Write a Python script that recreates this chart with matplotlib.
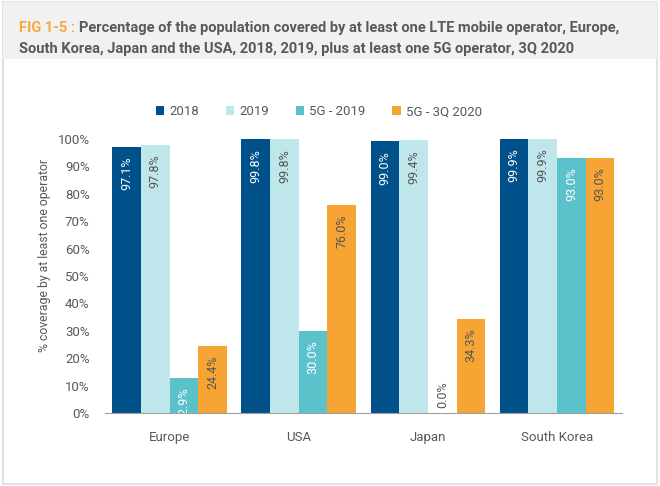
import numpy as np
import matplotlib.pyplot as plt
from matplotlib.patches import Rectangle

plt.rcParams['font.family'] = ['Roboto', 'DejaVu Sans']

# data
regions = ['Europe', 'USA', 'Japan', 'South Korea']
series = ['2018', '2019', '5G - 2019', '5G - 3Q 2020']
lte_2018 = [97.1, 99.8, 99.0, 99.9]
lte_2019 = [97.8, 99.8, 99.4, 99.9]
g5_2019 = [12.9, 30.0, 0.0, 93.0]
g5_2020 = [24.4, 76.0, 34.3, 93.0]
yticks = [0, 10, 20, 30, 40, 50, 60, 70, 80, 90, 100]

colors = ['#00508a', '#bfe6ea', '#5bc2cc', '#f6a433']
label_colors = ['white', '#555555', 'white', '#555555']
grey = '#58595b'

fig = plt.figure(figsize=(6.6, 4.86), dpi=100)

# title band and frame
fig.patches.append(Rectangle((0.004, 0.004), 0.992, 0.992, transform=fig.transFigure,
                             facecolor='white', edgecolor='#dddddd', lw=1.2, zorder=-10))
fig.patches.append(Rectangle((0.004, 0.878), 0.992, 0.118, transform=fig.transFigure,
                             facecolor='#f1f1f1', edgecolor='none', zorder=-9))

head = 'FIG 1-5 : '
line1 = 'Percentage of the population covered by at least one LTE mobile operator, Europe,'
line2 = 'South Korea, Japan and the USA, 2018, 2019, plus at least one 5G operator, 3Q 2020'

# size the title so the first line spans about 603 px, like the condensed original
probe = fig.text(0, 0, head + line1, fontsize=10, fontweight='bold')
fig.canvas.draw()
tsize = 10 * 603 / probe.get_window_extent().width
probe.remove()

tfont = dict(fontsize=tsize, fontweight='bold')
t1 = fig.text(0.029, 0.935, head, color='#f7a941', va='baseline', **tfont)
fig.canvas.draw()
x1 = t1.get_window_extent().x1 / fig.bbox.width
fig.text(x1, 0.935, line1, color=grey, va='baseline', **tfont)
fig.text(0.029, 0.89, line2, color=grey, va='baseline', **tfont)

ax = fig.add_axes([0.159, 0.1496, 0.783, 0.565])

x = np.arange(len(regions))
w = 0.222
data = [lte_2018, lte_2019, g5_2019, g5_2020]
for i, vals in enumerate(data):
    pos = x + (i - 1.5) * w
    ax.bar(pos, vals, width=w, color=colors[i], label=series[i], zorder=2)
    for xp, v in zip(pos, vals):
        if v == 0:
            ax.annotate(f'{v:.1f}%', (xp, 0), xytext=(0, 4), textcoords='offset points',
                        rotation=90, ha='center', va='bottom', fontsize=9,
                        color='#555555')
        else:
            ax.annotate(f'{v:.1f}%', (xp, v), xytext=(0, -7), textcoords='offset points',
                        rotation=90, ha='center', va='top', fontsize=9,
                        color=label_colors[i], clip_on=True, zorder=3)

ax.set_xlim(-0.5, 3.5)
ax.set_ylim(0, 100)
ax.set_xticks(x)
ax.set_xticklabels(regions, fontsize=9.5, color=grey)
ax.set_yticks(yticks)
ax.set_yticklabels([f'{t}%' for t in yticks], fontsize=9.5, color=grey)
ax.tick_params(axis='both', length=0)
ax.tick_params(axis='x', pad=13)
ax.tick_params(axis='y', pad=11)
for s in ['top', 'right', 'left']:
    ax.spines[s].set_visible(False)
ax.spines['bottom'].set_color('#a0a0a0')
ax.set_ylabel('% coverage by at least one operator', fontsize=8.8, color=grey)
ax.yaxis.set_label_coords(-0.116, 0.576)
ax.yaxis.label.set_va('center')

ax.legend(loc='center', bbox_to_anchor=(0.414, 1.098), ncol=4, frameon=False,
          fontsize=9.5, labelcolor=grey, handlelength=0.65, handleheight=0.65,
          handletextpad=0.4, columnspacing=2.0)

fig.savefig('out.png', dpi=100)
